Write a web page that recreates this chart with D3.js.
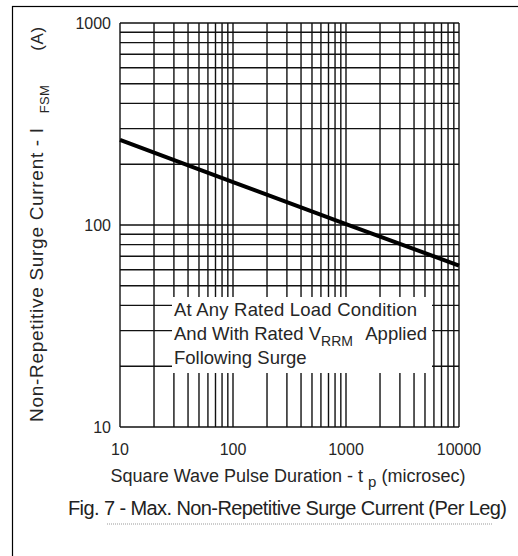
<!DOCTYPE html>
<html><head><meta charset="utf-8">
<script src="https://cdn.jsdelivr.net/npm/d3@7"></script>
<style>html,body{margin:0;padding:0;background:#fff;}svg{display:block;}</style>
</head><body>
<script>
const pulseDuration = [10, 100, 1000, 10000];
const surgeCurrent = [264, 163, 101, 63];
const xTickValues = [10, 100, 1000, 10000];
const xTickLabels = ["10", "100", "1000", "10000"];
const yTickValues = [10, 100, 1000];
const yTickLabels = ["10", "100", "1000"];
const noteLines = ["At Any Rated Load Condition", "And With Rated V", "Following Surge"];
const noteSub = "RRM";
const noteTail = "Applied";
const xTitle = "Square Wave Pulse Duration - t ";
const xTitleSub = "p";
const xTitleTail = " (microsec)";
const yTitle = "Non-Repetitive Surge Current - I";
const yTitleSub = "FSM";
const yTitleTail = "(A)";
const caption = "Fig. 7 - Max. Non-Repetitive Surge Current (Per Leg)";

const W = 518, H = 556;
const svg = d3.select("body").append("svg").attr("width", W).attr("height", H);
const font = "'Liberation Sans', Arial, sans-serif";
const ink = "#262626";

// outer frame
svg.append("rect").attr("x", 12.5).attr("y", 6.5).attr("width", 530).attr("height", 570)
  .attr("fill", "none").attr("stroke", "#000").attr("stroke-width", 1.2);

const x = d3.scaleLog().domain([10, 10000]).range([120, 459]);
const y = d3.scaleLog().domain([10, 1000]).range([427, 23]);

const grid = svg.append("g").attr("stroke", "#111").attr("stroke-width", 1.4);
grid.selectAll("line.v").data(x.ticks()).join("line").attr("class", "v")
  .attr("x1", d => x(d)).attr("x2", d => x(d)).attr("y1", y.range()[0]).attr("y2", y.range()[1]);
grid.selectAll("line.h").data(y.ticks()).join("line").attr("class", "h")
  .attr("y1", d => y(d)).attr("y2", d => y(d)).attr("x1", x.range()[0]).attr("x2", x.range()[1]);

// note box (white mask)
svg.append("rect").attr("x", 172).attr("y", 297).attr("width", 260).attr("height", 76).attr("fill", "#fff");

// curve
const pts = pulseDuration.map((d, i) => [d, surgeCurrent[i]]);
svg.append("path").datum(pts)
  .attr("d", d3.line().x(d => x(d[0])).y(d => y(d[1])))
  .attr("fill", "none").attr("stroke", "#000").attr("stroke-width", 4);

// tick labels
svg.append("g").selectAll("text").data(yTickValues).join("text")
  .attr("x", 111).attr("y", d => y(d)).attr("dy", "0.36em").attr("text-anchor", "end")
  .attr("font-family", font).attr("font-size", 16).attr("fill", ink)
  .text((d, i) => yTickLabels[i]);
svg.append("g").selectAll("text").data(xTickValues).join("text")
  .attr("x", d => x(d)).attr("y", 455).attr("text-anchor", "middle")
  .attr("font-family", font).attr("font-size", 16).attr("fill", ink)
  .text((d, i) => xTickLabels[i]);

// note text
const nt = svg.append("g").attr("font-family", font).attr("font-size", 18.5).attr("fill", ink);
nt.append("text").attr("x", 174).attr("y", 316).attr("textLength", 243).attr("lengthAdjust", "spacing").text(noteLines[0]);
const l2 = nt.append("text").attr("x", 174).attr("y", 340);
l2.append("tspan").text(noteLines[1]);
l2.append("tspan").attr("font-size", 14).attr("dy", 6).text(noteSub);
nt.append("text").attr("x", 427).attr("y", 340).attr("text-anchor", "end").text(noteTail);
nt.append("text").attr("x", 174).attr("y", 364).text(noteLines[2]);

// x title
const xt = svg.append("text").attr("x", 288).attr("y", 482).attr("text-anchor", "middle")
  .attr("font-family", font).attr("font-size", 18).attr("fill", ink);
xt.append("tspan").text(xTitle);
xt.append("tspan").attr("font-size", 15).attr("dy", 5).text(xTitleSub);
xt.append("tspan").attr("dy", -5).text(xTitleTail);

// y title
const yt = svg.append("text").attr("transform", "translate(43,422) rotate(-90)")
  .attr("font-family", font).attr("font-size", 19).attr("letter-spacing", 0.7).attr("fill", ink);
yt.append("tspan").text(yTitle);
yt.append("tspan").attr("font-size", 13).attr("dx", 14).attr("dy", 6).attr("letter-spacing", 0.3).text(yTitleSub);
yt.append("tspan").attr("font-size", 17).attr("dx", 34).attr("dy", -6).text(yTitleTail);

// caption
svg.append("text").attr("x", 68).attr("y", 515).attr("font-family", font).attr("font-size", 20)
  .attr("fill", "#222").attr("textLength", 439).attr("lengthAdjust", "spacing").text(caption);
svg.append("line").attr("x1", 107).attr("x2", 492).attr("y1", 524).attr("y2", 524)
  .attr("stroke", "#999").attr("stroke-width", 1).attr("stroke-dasharray", "1,1");
</script>
</body></html>
